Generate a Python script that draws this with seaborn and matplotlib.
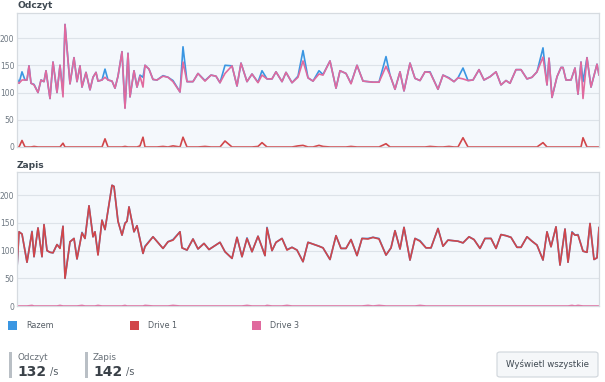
import matplotlib.pyplot as plt
import pandas as pd
import seaborn as sns
from matplotlib.patches import FancyBboxPatch, Rectangle

W, H = 605, 382

series_names = ["Razem", "Drive 1", "Drive 3"]
series_colors = ["#3a96e2", "#d1464a", "#e06a9e"]

# Odczyt (read) - czas w sekundach
read_t = [0, 2, 5, 8, 10, 12, 14, 17, 21, 24,
          27, 29, 33, 36, 40, 43, 46, 48, 53, 57,
          60, 63, 65, 69, 73, 76, 79, 81, 85, 88,
          91, 95, 98, 101, 105, 108, 111, 113, 117, 120,
          123, 126, 128, 132, 136, 140, 146, 151, 156, 163,
          166, 170, 176, 181, 188, 194, 199, 203, 208, 215,
          220, 224, 230, 235, 241, 245, 250, 255, 259, 265,
          269, 275, 281, 286, 291, 296, 302, 306, 313, 319,
          323, 329, 334, 340, 346, 356, 362, 369, 373, 378,
          383, 387, 393, 398, 403, 408, 413, 421, 426, 432,
          437, 441, 446, 451, 456, 462, 467, 473, 479, 484,
          489, 493, 499, 504, 510, 515, 520, 526, 530, 532,
          535, 540, 544, 546, 549, 554, 558, 561, 564, 566,
          570, 574, 580, 582]
read_total = [126, 117, 138, 123, 123, 149, 117, 115, 100, 123,
              120, 140, 89, 156, 100, 150, 99, 225, 116, 164,
              120, 149, 110, 137, 105, 128, 137, 121, 123, 143,
              123, 121, 108, 130, 175, 72, 172, 92, 140, 110,
              132, 128, 150, 143, 124, 123, 131, 128, 122, 101,
              184, 120, 120, 135, 122, 132, 130, 118, 150, 149,
              112, 154, 120, 134, 119, 140, 125, 125, 138, 120,
              137, 118, 130, 177, 127, 121, 140, 133, 158, 108,
              140, 135, 117, 150, 121, 119, 119, 166, 132, 106,
              138, 103, 154, 126, 122, 138, 138, 106, 132, 127,
              120, 127, 145, 122, 123, 142, 123, 129, 138, 114,
              122, 117, 142, 142, 125, 128, 138, 182, 114, 163,
              91, 129, 146, 146, 123, 123, 145, 97, 156, 120,
              164, 110, 152, 132]
read_drive1 = [0, 0, 12, 0, 0, 0, 0, 1, 0, 0,
               0, 0, 0, 0, 0, 0, 7, 0, 0, 0,
               0, 0, 0, 0, 0, 0, 0, 0, 0, 15,
               0, 0, 0, 0, 0, 1, 0, 0, 0, 0,
               2, 18, 0, 0, 0, 0, 1, 0, 2, 0,
               18, 0, 0, 0, 1, 0, 0, 0, 11, 0,
               0, 0, 0, 0, 1, 8, 0, 0, 0, 0,
               0, 0, 2, 3, 0, 0, 3, 1, 0, 0,
               0, 0, 1, 0, 0, 0, 0, 6, 0, 0,
               0, 0, 0, 0, 0, 0, 1, 0, 0, 1,
               0, 0, 17, 0, 0, 0, 0, 0, 0, 0,
               0, 0, 0, 0, 0, 0, 0, 8, 0, 0,
               0, 0, 0, 0, 0, 0, 0, 0, 0, 17,
               0, 0, 0, 0]
read_drive3 = [120, 117, 123, 123, 123, 149, 117, 114, 100, 123,
               120, 140, 89, 156, 100, 150, 92, 225, 116, 164,
               120, 149, 110, 137, 105, 128, 137, 121, 123, 128,
               123, 121, 108, 130, 175, 71, 172, 92, 140, 110,
               130, 110, 150, 143, 124, 123, 130, 128, 120, 101,
               156, 120, 120, 135, 121, 132, 130, 118, 135, 149,
               112, 154, 120, 134, 118, 132, 125, 125, 138, 120,
               137, 118, 128, 158, 127, 121, 134, 132, 158, 108,
               140, 135, 116, 150, 121, 119, 119, 148, 132, 106,
               138, 103, 154, 126, 122, 138, 137, 106, 132, 126,
               120, 127, 125, 122, 123, 142, 123, 129, 138, 114,
               122, 117, 142, 142, 125, 128, 138, 165, 114, 163,
               91, 129, 146, 146, 123, 123, 145, 97, 156, 89,
               164, 110, 152, 132]

# Zapis (write)
write_t = [0, 2, 5, 10, 15, 17, 21, 25, 27, 30,
           33, 36, 40, 43, 46, 48, 53, 57, 60, 65,
           68, 72, 76, 78, 81, 85, 88, 95, 97, 101,
           105, 108, 110, 112, 117, 120, 126, 128, 136, 146,
           151, 156, 163, 165, 170, 176, 181, 187, 192, 203,
           208, 215, 220, 225, 230, 235, 241, 248, 250, 255,
           259, 265, 270, 275, 280, 286, 291, 302, 306, 313,
           319, 324, 329, 334, 340, 345, 351, 356, 362, 369,
           374, 378, 383, 387, 393, 398, 403, 409, 414, 421,
           426, 431, 441, 446, 452, 457, 463, 468, 474, 479,
           484, 489, 494, 500, 504, 510, 515, 520, 526, 530,
           534, 539, 543, 548, 551, 555, 558, 561, 566, 570,
           573, 577, 580, 582]
write_total = [68, 134, 130, 79, 135, 89, 141, 89, 147, 100,
               97, 96, 111, 105, 144, 50, 116, 122, 85, 133,
               122, 181, 125, 134, 93, 155, 138, 218, 216, 153,
               128, 150, 153, 179, 134, 145, 95, 108, 125, 104,
               116, 120, 134, 105, 101, 121, 103, 113, 102, 115,
               98, 86, 124, 89, 123, 98, 126, 91, 142, 100,
               115, 122, 102, 106, 101, 80, 115, 108, 105, 84,
               127, 104, 104, 120, 91, 122, 122, 124, 122, 92,
               105, 136, 103, 142, 83, 122, 118, 105, 105, 140,
               108, 119, 117, 114, 125, 120, 104, 122, 122, 104,
               129, 127, 124, 106, 106, 125, 117, 110, 83, 134,
               107, 143, 74, 139, 79, 134, 128, 129, 99, 97,
               149, 84, 87, 142]
write_drive1 = [68, 134, 130, 79, 134, 89, 141, 89, 147, 100,
                97, 96, 111, 104, 144, 50, 116, 122, 85, 132,
                122, 181, 125, 134, 92, 155, 138, 218, 216, 153,
                128, 149, 153, 179, 134, 145, 95, 107, 125, 104,
                116, 119, 134, 105, 101, 121, 103, 113, 102, 115,
                98, 86, 124, 89, 122, 98, 126, 91, 141, 100,
                115, 122, 101, 106, 101, 80, 115, 108, 105, 84,
                127, 104, 104, 120, 91, 122, 121, 124, 121, 92,
                105, 136, 103, 142, 83, 122, 117, 105, 105, 140,
                108, 119, 117, 114, 125, 120, 104, 122, 122, 104,
                129, 127, 124, 106, 106, 125, 117, 110, 83, 134,
                107, 143, 74, 139, 79, 133, 128, 128, 99, 97,
                149, 84, 87, 142]
write_drive3 = [0, 0, 0, 0, 1, 0, 0, 0, 0, 0,
                0, 0, 0, 1, 0, 0, 0, 0, 0, 1,
                0, 0, 0, 0, 1, 0, 0, 0, 0, 0,
                0, 1, 0, 0, 0, 0, 0, 1, 0, 0,
                0, 1, 0, 0, 0, 0, 0, 0, 0, 0,
                0, 0, 0, 0, 1, 0, 0, 0, 1, 0,
                0, 0, 1, 0, 0, 0, 0, 0, 0, 0,
                0, 0, 0, 0, 0, 0, 1, 0, 1, 0,
                0, 0, 0, 0, 0, 0, 1, 0, 0, 0,
                0, 0, 0, 0, 0, 0, 0, 0, 0, 0,
                0, 0, 0, 0, 0, 0, 0, 0, 0, 0,
                0, 0, 0, 0, 0, 1, 0, 1, 0, 0,
                0, 0, 0, 0]

read_now = 132
write_now = 142
yticks = [0, 50, 100, 150, 200]


def long_df(t, total, d1, d3):
    df = pd.DataFrame({"t": t, "Razem": total, "Drive 1": d1, "Drive 3": d3})
    return df.melt(id_vars="t", var_name="series", value_name="value")


def fx(x):
    return x / W


def fy(y):
    return 1 - y / H


sns.set_style("white")
plt.rcParams["font.family"] = ["DejaVu Sans"]

fig = plt.figure(figsize=(W / 100, H / 100), dpi=100)
fig.patch.set_facecolor("white")

panels = [
    ("Odczyt", 13, 147, 246, long_df(read_t, read_total, read_drive1, read_drive3)),
    ("Zapis", 172, 306, 242, long_df(write_t, write_total, write_drive1, write_drive3)),
]

for title, top, bottom, ymax, df in panels:
    ax = fig.add_axes([fx(17), fy(bottom), fx(599 - 17), (bottom - top) / H])
    ax.set_facecolor("#f4f8fc")
    for y in yticks[1:]:
        ax.axhline(y, color="#dde3e9", lw=0.8, zorder=0)
    sns.lineplot(data=df, x="t", y="value", hue="series", hue_order=series_names,
                 palette=series_colors, ax=ax, legend=False, linewidth=1.2,
                 estimator=None)
    ax.set_xlim(0, 582)
    ax.set_ylim(0, ymax)
    ax.set_xticks([])
    ax.set_yticks(yticks)
    ax.tick_params(axis="y", length=0, pad=2, labelsize=5.5, labelcolor="#6e7882")
    ax.set_xlabel("")
    ax.set_ylabel("")
    for side, sp in ax.spines.items():
        sp.set_color("#d6dbe0")
        sp.set_linewidth(0.9)
    fig.text(fx(17), fy(top - 7), title, fontsize=6.6, fontweight="bold",
             color="#3f4952", va="center", ha="left")

# legenda
legend_x = [8, 130, 252]
for name, color, x in zip(series_names, series_colors, legend_x):
    fig.patches.append(Rectangle((fx(x), fy(330)), 9 / W, 9 / H, transform=fig.transFigure,
                                 facecolor=color, edgecolor="none"))
    fig.text(fx(x + 18), fy(325.5), name, fontsize=5.8, color="#555d65",
             va="center", ha="left")

# statystyki
for label, val, x in [("Odczyt", read_now, 9), ("Zapis", write_now, 85)]:
    fig.patches.append(Rectangle((fx(x), fy(378)), 3 / W, 26 / H, transform=fig.transFigure,
                                 facecolor="#b9bfc5", edgecolor="none"))
    fig.text(fx(x + 8), fy(357), label, fontsize=6.3, color="#666e76",
             va="center", ha="left")
    fig.text(fx(x + 8), fy(372), str(val), fontsize=10, fontweight="bold",
             color="#3a4148", va="center", ha="left")
    fig.text(fx(x + 41), fy(372.5), "/s", fontsize=7, color="#555d65",
             va="center", ha="left")

# przycisk
fig.patches.append(FancyBboxPatch((fx(497), fy(377)), 101 / W, 25 / H,
                                  boxstyle="round,pad=0,rounding_size=0.005",
                                  transform=fig.transFigure, facecolor="#f5f7f9",
                                  edgecolor="#cfd5db", linewidth=0.8))
fig.text(fx(547.5), fy(364.5), "Wyświetl wszystkie", fontsize=6.2, color="#3f4952",
         va="center", ha="center")

fig.savefig("out.png", dpi=100)
plt.close(fig)
